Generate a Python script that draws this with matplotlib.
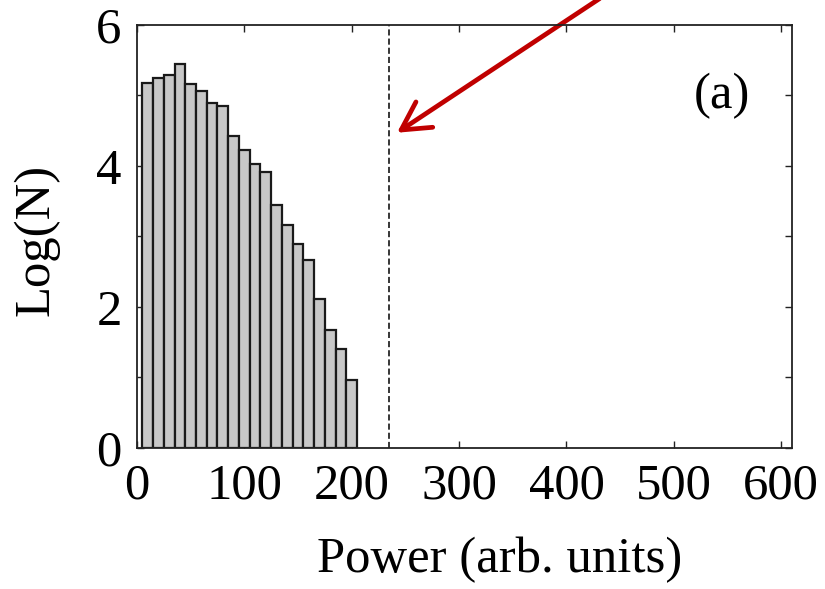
import numpy as np
import matplotlib.pyplot as plt
from matplotlib.ticker import MultipleLocator

# histogram of Log(N) per power bin (bin width 10)
bin_centers = [10, 20, 30, 40, 50, 60, 70, 80, 90, 100,
               110, 120, 130, 140, 150, 160, 170, 180, 190, 200]
log_n = [5.17, 5.25, 5.29, 5.45, 5.16, 5.06, 4.90, 4.85, 4.42, 4.22,
         4.03, 3.91, 3.44, 3.16, 2.89, 2.66, 2.11, 1.68, 1.40, 0.97]
bin_width = 10
threshold = 235
panel_label = "(a)"

plt.rcParams['font.family'] = ['Liberation Serif', 'DejaVu Serif']
plt.rcParams['font.size'] = 36.5

fig = plt.figure(figsize=(8.25, 5.89), dpi=100)
ax = fig.add_axes([0.166, 0.2394, 0.794, 0.7182])

ax.bar(bin_centers, log_n, width=bin_width, color='#c8c8c8',
       edgecolor='#1a1a1a', linewidth=1.6, zorder=2)
ax.axvline(threshold, color='black', linestyle=(0, (4, 2)), linewidth=1.1, zorder=3)

ax.set_xlim(0, 610)
ax.set_ylim(0, 6)
ax.xaxis.set_major_locator(MultipleLocator(100))
ax.yaxis.set_major_locator(MultipleLocator(2))
ax.yaxis.set_minor_locator(MultipleLocator(1))
ax.tick_params(which='both', direction='in', top=True, right=True,
               length=5, width=1.0, color='#222222')
ax.tick_params(axis='x', pad=11)
ax.tick_params(axis='y', pad=11)
for s in ax.spines.values():
    s.set_linewidth(1.3)
    s.set_color('#222222')
    s.set_zorder(4)

ax.set_xlabel("Power (arb. units)")
ax.set_ylabel("Log(N)")
ax.xaxis.set_label_coords(0.554, -0.21)
ax.yaxis.set_label_coords(-0.118, 0.492)

ax.text(545, 5.0, panel_label, ha='center', va='center')

ax.annotate("", xy=(240, 4.45), xycoords='data',
            xytext=(602, 592), textcoords='figure pixels',
            arrowprops=dict(arrowstyle='->,head_length=0.55,head_width=0.3',
                            color='#c00000', lw=3.4),
            annotation_clip=False)

fig.savefig("out.png", dpi=100)
